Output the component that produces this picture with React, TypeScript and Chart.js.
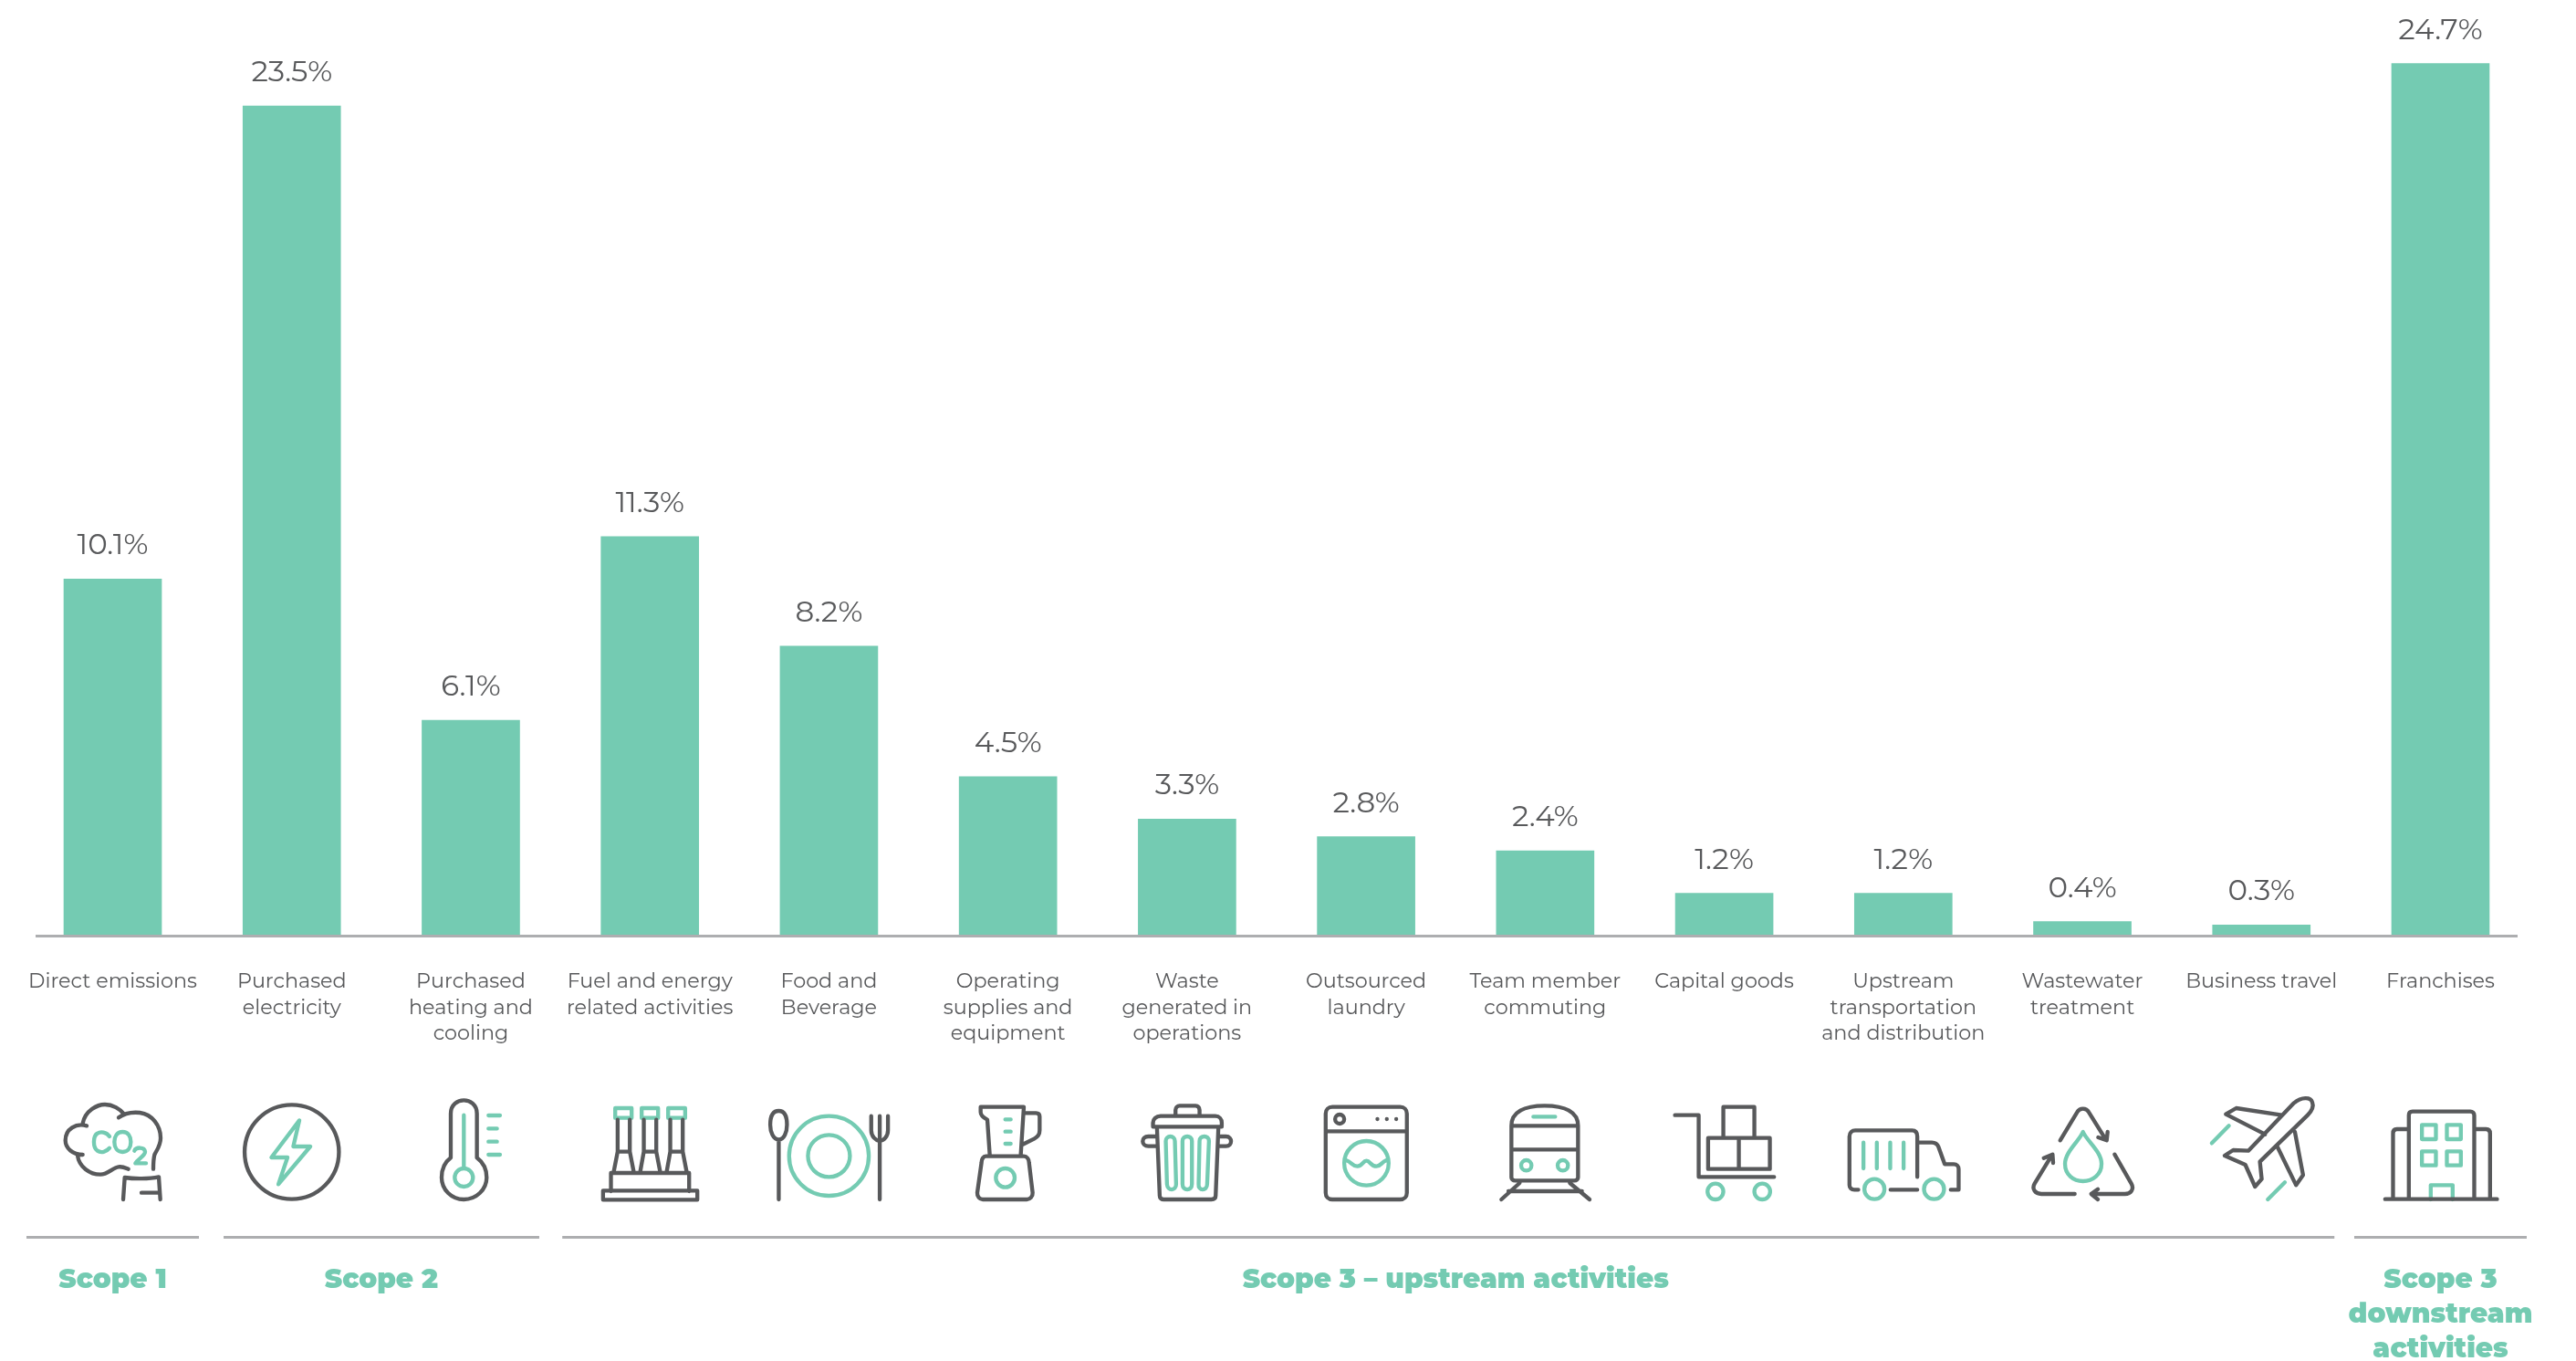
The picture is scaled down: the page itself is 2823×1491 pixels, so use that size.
import React, { useEffect, useRef } from "react";
import { Chart, registerables } from "chart.js";

Chart.register(...registerables);

const categories: string[][] = [
  ["Direct emissions"],
  ["Purchased", "electricity"],
  ["Purchased", "heating and", "cooling"],
  ["Fuel and energy", "related activities"],
  ["Food and", "Beverage"],
  ["Operating", "supplies and", "equipment"],
  ["Waste", "generated in", "operations"],
  ["Outsourced", "laundry"],
  ["Team member", "commuting"],
  ["Capital goods"],
  ["Upstream", "transportation", "and distribution"],
  ["Wastewater", "treatment"],
  ["Business travel"],
  ["Franchises"],
];

const shares = [10.1, 23.5, 6.1, 11.3, 8.2, 4.5, 3.3, 2.8, 2.4, 1.2, 1.2, 0.4, 0.3, 24.7];

const scopeLabels: string[][] = [
  ["Scope 1"],
  ["Scope 2"],
  ["Scope 3 – upstream activities"],
  ["Scope 3", "downstream", "activities"],
];
const scopeFirstCategory = [0, 1, 3, 13];
const scopeLastCategory = [0, 2, 12, 13];

const GREEN = "#74cbb2";
const DARK = "#58595b";
const RULE = "#adaeb0";
const FONT = "Montserrat, Inter, sans-serif";

// Pictograms are authored on a 3x grid; `o` is the grid x that sits on the category centre.
type Icon = { o: number; dark: string; teal: string };

const ring = (x: number, y: number, r: number) =>
  `M${x - r} ${y} A${r} ${r} 0 1 0 ${x + r} ${y} A${r} ${r} 0 1 0 ${x - r} ${y} Z `;
const box = (a: number, b: number, c: number, d: number) => `M${a} ${b} L${c} ${b} L${c} ${d} L${a} ${d} Z `;

const icons: Icon[] = [
  {
    o: 220.5,
    dark:
      "M135 130 C100 120 65 140 65 178 C65 205 90 225 122 225 M122 122 C130 80 170 60 195 60 C220 60 245 75 258 92 " +
      "M240 103 C260 88 290 85 310 87 C350 92 378 130 378 170 C378 195 365 210 358 225 C354 240 354 255 354 272 " +
      "M105 228 C110 265 145 290 180 290 C205 290 220 268 240 265 C252 263 262 268 272 272 " +
      "M255 372 L260 300 C290 305 340 305 372 298 L377 372 M315 350 L375 350",
    teal:
      "M210 165 C200 150 180 148 170 155 C155 165 155 200 170 212 C182 220 200 216 210 203 " +
      "M253 150 C235 150 226 165 226 183 C226 201 235 216 253 216 C271 216 280 201 280 183 C280 165 271 150 253 150 Z " +
      "M292 212 C296 200 325 198 327 215 C328 228 305 238 295 253 L330 253",
  },
  {
    o: 809,
    dark: ring(809, 216, 155),
    teal: "M834 112 L742 234 L795 234 L765 322 L870 198 L814 198 Z",
  },
  {
    o: 1398,
    dark:
      "M1332 235 L1332 90 C1332 60 1355 46 1375 46 C1395 46 1418 60 1418 90 L1418 235 C1438 250 1450 275 1450 300 " +
      "C1450 340 1415 372 1375 372 C1335 372 1302 340 1302 300 C1302 275 1312 250 1332 235 Z",
    teal:
      "M1375 95 L1375 265 " + ring(1375, 300, 30) +
      "M1456 96 L1494 96 M1456 139 L1484 139 M1456 182 L1484 182 M1456 225 L1494 225",
  },
  {
    o: 216,
    dark:
      "M110 110 L110 215 L150 215 L150 110 M110 215 L97 282 M150 215 L163 282 " +
      "M196 110 L196 215 L237 215 L237 110 M196 215 L184 282 M237 215 L250 282 " +
      "M283 110 L283 215 L324 215 L324 110 M283 215 L271 282 M324 215 L337 282 " +
      "M88 345 L88 285 L345 285 L345 345 " + box(62, 343, 372, 373),
    teal: box(102, 72, 156, 104) + box(189, 72, 243, 104) + box(276, 72, 332, 104),
  },
  {
    o: 805,
    dark:
      "M640 81 C618 81 612 105 612 127 C612 150 622 175 640 175 C658 175 667 150 667 127 C667 105 662 81 640 81 Z M640 175 L640 372 " +
      "M972 372 L972 98 M944 98 L944 145 C944 165 958 178 972 180 C986 178 999 165 999 145 L999 98",
    teal: ring(805, 229, 131) + ring(805, 229, 69),
  },
  {
    o: 1393,
    dark:
      "M1435 225 L1445 68 L1303 68 L1303 85 C1303 95 1315 105 1325 110 L1333 225 " +
      "M1445 88 L1485 88 C1492 88 1497 92 1497 100 L1497 145 C1497 160 1490 167 1480 172 L1440 192 " +
      "M1320 230 L1445 230 C1455 230 1462 240 1462 250 L1474 350 C1475 362 1465 372 1455 372 L1310 372 C1300 372 1291 362 1292 350 L1306 250 C1306 240 1312 230 1320 230 Z",
    teal: "M1384 109 L1402 109 M1384 149 L1402 149 M1384 189 L1402 189 " + ring(1384, 301, 31),
  },
  {
    o: 212,
    dark:
      "M100 133 L100 120 C100 108 110 98 125 98 L305 98 C318 98 326 108 326 120 L326 133 Z " +
      "M174 98 L174 78 C174 70 180 64 188 64 L240 64 C248 64 253 70 253 78 L253 98 " +
      "M113 135 L122 360 C122 368 128 372 135 372 L292 372 C300 372 306 368 306 360 L315 135 " +
      "M113 165 L85 165 C60 165 60 197 85 197 L113 197 M315 165 L340 165 C362 165 362 197 340 197 L315 197",
    teal:
      "M142 180 C142 160 172 160 172 180 L176 322 C176 345 148 345 146 322 Z " +
      "M197 180 C197 160 228 160 228 180 L228 322 C228 345 197 345 197 322 Z " +
      "M253 180 C253 160 284 160 284 180 L278 322 C278 345 248 345 250 322 Z",
  },
  {
    o: 801,
    dark:
      "M690 68 L913 68 C926 68 935 77 935 90 L935 350 C935 363 926 372 913 372 L690 372 C677 372 668 363 668 350 L668 90 C668 77 677 68 690 68 Z " +
      "M668 148 L935 148 " + ring(714, 108, 15) + "M838 108 L838.1 108 M869 108 L869.1 108 M900 108 L900.1 108",
    teal:
      ring(802, 253, 73) +
      "M735 243 C755 250 755 263 772 263 C790 263 790 245 802 245 C815 245 815 263 835 263 C850 263 850 250 868 243",
  },
  {
    o: 1389,
    dark:
      "M1278 130 C1278 85 1320 64 1387 64 C1455 64 1497 85 1497 130 L1497 300 C1497 305 1492 310 1485 310 L1290 310 C1283 310 1278 305 1278 300 Z " +
      "M1278 130 L1497 130 M1278 208 L1497 208 M1305 318 L1245 372 M1470 318 L1535 372 M1268 345 L1510 345",
    teal: "M1350 100 L1422 100 " + ring(1327, 260, 17) + ring(1447, 260, 17),
  },
  {
    o: 208,
    dark: "M46 95 L124 95 L124 298 L372 298 " + box(205, 68, 307, 170) + box(155, 170, 358, 272) + "M256 170 L256 272",
    teal: ring(179, 346, 26) + ring(333, 346, 26),
  },
  {
    o: 796,
    dark:
      "M648 340 L635 340 C625 340 619 334 619 325 L619 165 C619 152 628 145 638 145 L825 145 C836 145 842 152 842 165 L842 298 " +
      "M842 185 L890 185 C900 185 908 190 912 200 L932 256 L962 256 C972 256 978 264 978 272 L978 340 L952 340 M754 340 L842 340",
    teal: "M665 185 L665 270 M709 185 L709 270 M753 185 L753 270 M797 185 L797 270 " + ring(701, 338, 33) + ring(897, 338, 33),
  },
  {
    o: 1385,
    dark:
      "M1312 178 L1368 85 C1376 70 1398 70 1406 85 L1462 175 M1437 168 L1465 178 L1468 150 " +
      "M1491 224 L1546 320 C1556 338 1545 354 1525 354 L1414 354 M1436 338 L1414 354 L1436 372 " +
      "M1360 354 L1250 354 C1230 354 1218 338 1228 320 L1285 226 M1258 236 L1287 224 L1289 252",
    teal: "M1387 150 C1375 180 1328 215 1328 255 C1328 290 1355 312 1387 312 C1419 312 1448 290 1448 255 C1448 215 1400 180 1387 150 Z",
  },
  {
    o: 473,
    dark:
      "M640 52 C635 35 605 35 580 55 L430 212 L380 210 L352 228 L420 258 L452 330 L474 305 L468 248 L625 95 C640 80 645 65 640 52 Z " +
      "M540 95 L390 72 L356 92 L485 158 M583 150 L610 292 L587 325 L525 198",
    teal: "M366 130 L310 187 M550 316 L494 372",
  },
  {
    o: 1062,
    dark:
      "M880 371 L1248 371 M958 371 L958 95 C958 88 962 83 970 83 L1160 83 C1168 83 1173 88 1173 95 L1173 371 " +
      "M958 141 L918 141 C910 141 906 146 906 155 L906 371 M1173 141 L1212 141 C1220 141 1225 146 1225 155 L1225 371",
    teal:
      box(1001, 127, 1047, 174) + box(1083, 127, 1129, 174) + box(1001, 214, 1047, 260) + box(1083, 214, 1129, 260) +
      "M1030 372 L1030 325 L1102 325 L1102 372",
  },
];

// Scope rules extend past the outer category centres by these distances.
const scopeRuleBefore = [94.5, 74.7, 96, 94.5];
const scopeRuleAfter = [94.5, 75, 80, 94.5];

const annotations = {
  id: "annotations",
  afterDatasetsDraw(chart: Chart) {
    const { ctx } = chart;
    const x = chart.scales.x;
    const base = chart.scales.y.getPixelForValue(0);
    ctx.save();

    // Baseline under the bars
    ctx.fillStyle = RULE;
    ctx.fillRect(39, base - 1, 2720, 3);

    // Value labels
    ctx.fillStyle = DARK;
    ctx.font = `400 32.5px ${FONT}`;
    ctx.textAlign = "center";
    ctx.textBaseline = "alphabetic";
    chart.getDatasetMeta(0).data.forEach((bar, i) => {
      ctx.fillText(`${shares[i].toFixed(1)}%`, bar.x, bar.y - 27);
    });

    // Pictograms
    const iconTop = 1190;
    ctx.lineCap = "round";
    ctx.lineJoin = "round";
    icons.forEach((icon, i) => {
      ctx.save();
      ctx.translate(x.getPixelForValue(i), iconTop);
      ctx.scale(1 / 3, 1 / 3);
      ctx.translate(-icon.o, 0);
      ctx.lineWidth = 13;
      ctx.strokeStyle = GREEN;
      ctx.stroke(new Path2D(icon.teal));
      ctx.strokeStyle = DARK;
      ctx.stroke(new Path2D(icon.dark));
      ctx.restore();
    });

    // Scope groupings
    scopeLabels.forEach((lines, s) => {
      const first = x.getPixelForValue(scopeFirstCategory[s]);
      const last = x.getPixelForValue(scopeLastCategory[s]);
      ctx.fillStyle = RULE;
      ctx.fillRect(first - scopeRuleBefore[s], 1354, last - first + scopeRuleBefore[s] + scopeRuleAfter[s], 3);
      ctx.fillStyle = GREEN;
      ctx.font = `900 29.5px ${FONT}`;
      ctx.textAlign = "center";
      lines.forEach((line, l) => ctx.fillText(line, (first + last) / 2, 1411 + l * 38));
    });

    ctx.restore();
  },
};

export default function App() {
  const ref = useRef<HTMLCanvasElement>(null);

  useEffect(() => {
    const chart = new Chart(ref.current!, {
      type: "bar",
      data: {
        labels: categories,
        datasets: [{ data: shares, backgroundColor: GREEN, barThickness: 107, borderWidth: 0 }],
      },
      options: {
        animation: false,
        responsive: false,
        layout: { padding: { left: 25.4, right: 50.4, top: 0, bottom: 0 } },
        plugins: { legend: { display: false }, tooltip: { enabled: false } },
        scales: {
          x: {
            grid: { display: false, drawTicks: false },
            border: { display: false },
            afterFit(scale: any) {
              // The axis keeps a fixed band and must not push the plot inward for wide outer labels.
              scale.height = 466;
              scale.paddingLeft = 0;
              scale.paddingRight = 0;
            },
            ticks: {
              autoSkip: false,
              maxRotation: 0,
              minRotation: 0,
              padding: 36,
              color: DARK,
              font: { family: FONT, size: 22.3, weight: "400", lineHeight: "28.7px" },
            },
          },
          y: { display: false, min: 0, max: 26.5 },
        },
      },
      plugins: [annotations],
    } as any);
    return () => chart.destroy();
  }, []);

  return (
    <canvas
      ref={ref}
      width={2823}
      height={1491}
      style={{ position: "fixed", left: 0, top: 0, width: 2823, height: 1491, display: "block" }}
    />
  );
}
